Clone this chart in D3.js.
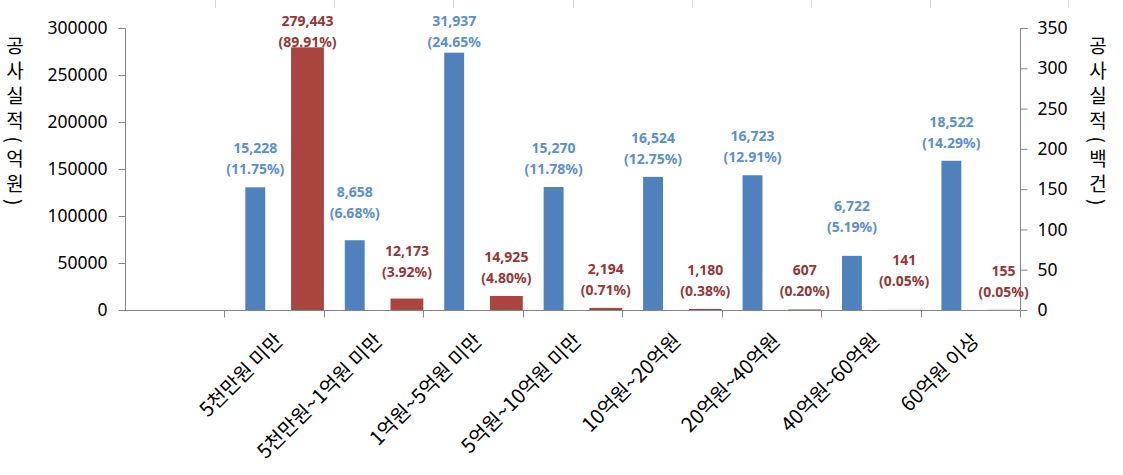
<!DOCTYPE html>
<html>
<head>
<meta charset="utf-8">
<script src="https://cdn.jsdelivr.net/npm/d3@7"></script>
<style>
  html, body { margin: 0; padding: 0; background: #fff; }
  svg { display: block; }
</style>
</head>
<body>
<div id="chart"></div>
<script>
// categories (first slot is left empty in the original chart)
const categories = ['', '5천만원 미만', '5천만원~1억원 미만', '1억원~5억원 미만', '5억원~10억원 미만',
    '10억원~20억원', '20억원~40억원', '40억원~60억원', '60억원 이상'];

// blue series: 공사실적 (건) -> drawn on right axis in 백건
const countValues = [null, 15228, 8658, 31937, 15270, 16524, 16723, 6722, 18522];
const countShare = [null, '11.75%', '6.68%', '24.65%', '11.78%', '12.75%', '12.91%', '5.19%', '14.29%'];

// red series: 공사실적 (억원) -> drawn on left axis
const amountValues = [null, 279443, 12173, 14925, 2194, 1180, 607, 141, 155];
const amountShare = [null, '89.91%', '3.92%', '4.80%', '0.71%', '0.38%', '0.20%', '0.05%', '0.05%'];

const leftTicks = [0, 50000, 100000, 150000, 200000, 250000, 300000];
const rightTicks = [0, 50, 100, 150, 200, 250, 300, 350];

const leftTitle = '공사실적(억원)';
const rightTitle = '공사실적(백건)';

const width = 1123;
const height = 475;
const plot = {left: 125, right: 1020, top: 28, bottom: 310};

const colors = {
    blue: '#4f81bd',
    blueText: '#5a8fd0',
    red: '#a9443f',
    redText: '#953735',
    axis: '#868686',
};

// labels that were lifted by hand in the original
const labelLift = {'5천만원~1억원 미만': 9, '40억원~60억원': 11};

const svg = d3.select('#chart').append('svg')
    .attr('width', width)
    .attr('height', height);

// thin table borders peeking in at the top edge of the screenshot
const topEdges = [215, 334, 453, 573, 692, 811, 930, 1068];
svg.append('g').selectAll('line').data(topEdges).join('line')
    .attr('x1', d => d + 0.5).attr('x2', d => d + 0.5)
    .attr('y1', 0).attr('y2', 8)
    .attr('stroke', '#d4d4d4');

const x = d3.scaleBand().domain(categories).range([plot.left, plot.right]).padding(0);
const yLeft = d3.scaleLinear().domain([0, 300000]).range([plot.bottom, plot.top]);
const yRight = d3.scaleLinear().domain([0, 350]).range([plot.bottom, plot.top]);
const bw = x.bandwidth();

const rows = categories.map((c, i) => ({
    cat: c,
    count: countValues[i],
    countShare: countShare[i],
    amount: amountValues[i],
    amountShare: amountShare[i],
})).filter(d => d.count !== null);

// bars
const blueX = d => x(d.cat) + bw * 0.21;
const blueW = bw * 0.2;
const redX = d => x(d.cat) + bw * 0.67;
const redW = bw * 0.33;

svg.append('g').selectAll('rect').data(rows).join('rect')
    .attr('x', blueX)
    .attr('width', blueW)
    .attr('y', d => yRight(d.count / 100))
    .attr('height', d => plot.bottom - yRight(d.count / 100))
    .attr('fill', colors.blue);

svg.append('g').selectAll('rect').data(rows).join('rect')
    .attr('x', redX)
    .attr('width', redW)
    .attr('y', d => yLeft(d.amount))
    .attr('height', d => Math.max(1, plot.bottom - yLeft(d.amount)))
    .attr('fill', colors.red);

// axes
const leftAxis = d3.axisLeft(yLeft).tickValues(leftTicks).tickSize(7).tickPadding(11).tickFormat(d3.format('d'));
const rightAxis = d3.axisRight(yRight).tickValues(rightTicks).tickSize(7).tickPadding(10).tickFormat(d3.format('d'));
const bottomAxis = d3.axisBottom(x).tickSize(0).tickFormat('');

const styleAxis = g => {
    g.select('.domain').attr('stroke', colors.axis);
    g.selectAll('.tick line').attr('stroke', colors.axis);
    g.selectAll('.tick text')
        .attr('fill', '#000')
        .style('font-family', '"Noto Sans", "Open Sans", sans-serif')
        .style('font-size', '17.5px');
};

svg.append('g')
    .attr('transform', `translate(${plot.left + 0.5},0)`)
    .call(leftAxis)
    .call(g => g.select('.domain').attr('d', `M-7,${plot.top + 0.5}H0V${plot.bottom + 0.5}`))
    .call(styleAxis);

svg.append('g')
    .attr('transform', `translate(${plot.right + 0.5},0)`)
    .call(rightAxis)
    .call(g => g.select('.domain').attr('d', `M7,${plot.top + 0.5}H0V${plot.bottom + 0.5}`))
    .call(styleAxis);

const xAxisG = svg.append('g')
    .attr('transform', `translate(0,${plot.bottom + 0.5})`)
    .call(bottomAxis)
    .call(g => g.select('.domain').attr('d', `M${plot.left},0H${plot.right}`).attr('stroke', colors.axis));

// category boundary ticks
xAxisG.selectAll('.bound').data(categories.slice(1).concat(['__end'])).join('line')
    .attr('class', 'bound')
    .attr('x1', d => Math.round(d === '__end' ? plot.right : x(d)) + 0.5)
    .attr('x2', d => Math.round(d === '__end' ? plot.right : x(d)) + 0.5)
    .attr('y1', 0).attr('y2', 7)
    .attr('stroke', colors.axis);

// rotated category labels
svg.append('g').selectAll('text').data(rows).join('text')
    .attr('transform', d => `translate(${x(d.cat) + bw / 2 + 5},${plot.bottom + 27}) rotate(-45)`)
    .attr('text-anchor', 'end')
    .attr('dy', '0.35em')
    .style('font-family', '"Noto Sans CJK KR", sans-serif')
    .style('font-size', '20px')
    .attr('fill', '#000')
    .text(d => d.cat);

// data labels
const labelFont = g => g
    .style('font-family', '"Noto Sans", "Noto Sans CJK KR", sans-serif')
    .style('font-size', '14px')
    .style('font-weight', 'bold')
    .attr('text-anchor', 'middle');

const addLabels = (cls, getX, getTop, getValue, getShare, fill) => {
    const g = svg.append('g').attr('class', cls).call(labelFont).attr('fill', fill);
    const lab = g.selectAll('g').data(rows).join('g')
        .attr('transform', (d) => {
            let base = getTop(d) - 34 - (labelLift[d.cat] || 0);
            base = Math.max(base, plot.top - 2);
            return `translate(${getX(d)},${base})`;
        });
    lab.append('text').text(d => d3.format(',')(getValue(d)));
    // the original label for 24.65% had its closing bracket cut off
    lab.append('text').attr('y', 21).text(d => (d.countShare === '24.65%' && cls === 'blue-labels'
        ? `(${getShare(d)}` : `(${getShare(d)})`));
};

addLabels('blue-labels', d => blueX(d) + blueW / 2, d => yRight(d.count / 100),
    d => d.count, d => d.countShare, colors.blueText);
addLabels('red-labels', d => redX(d) + redW / 2, d => yLeft(d.amount),
    d => d.amount, d => d.amountShare, colors.redText);

// vertical axis titles
const addTitle = (text, cx) => svg.append('text')
    .attr('x', cx)
    .attr('y', 124)
    .attr('text-anchor', 'middle')
    .style('writing-mode', 'vertical-rl')
    .style('font-family', '"Noto Sans CJK KR", sans-serif')
    .style('font-size', '19px')
    .style('letter-spacing', '6px')
    .attr('fill', '#000')
    .text(text);

addTitle(leftTitle, 15);
addTitle(rightTitle, 1098);
</script>
</body>
</html>
